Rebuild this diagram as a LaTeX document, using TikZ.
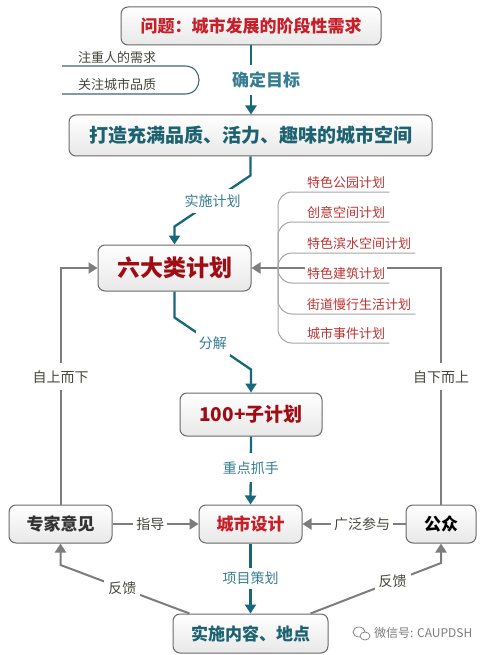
\documentclass[tikz,border=0pt]{standalone}
\usepackage{fontspec}
\setmainfont{Noto Sans CJK SC}
\usetikzlibrary{arrows.meta}
\definecolor{tealline}{RGB}{24,104,124}
\definecolor{tealtext}{RGB}{28,98,112}
\definecolor{labteal}{RGB}{55,125,145}
\definecolor{titlered}{RGB}{200,30,40}
\definecolor{darkred}{RGB}{160,12,20}
\definecolor{itemred}{RGB}{190,50,50}
\definecolor{arrgray}{RGB}{125,125,125}
\definecolor{labgray}{RGB}{70,70,60}
\definecolor{boxedge}{RGB}{105,105,105}
\definecolor{boxbot}{RGB}{232,232,232}
\definecolor{treegray}{RGB}{165,165,165}
\definecolor{brackteal}{RGB}{60,105,120}
\begin{document}
\begin{tikzpicture}[x=1pt,y=-1pt,
  box/.style={draw=boxedge, line width=1pt, rounded corners=7pt, top color=white, bottom color=boxbot, inner sep=0pt},
  tarrow/.style={draw=tealline, line width=2.3pt, -{Triangle[width=11pt,length=9pt]}},
  garrow/.style={draw=arrgray, line width=2pt, -{Triangle[width=11pt,length=9pt]}},
  tlab/.style={fill=white, text=labteal, font=\fontsize{14}{16}\selectfont, inner xsep=3pt, inner ysep=6pt},
  glab/.style={fill=white, text=labgray, font=\fontsize{14}{16}\selectfont, inner xsep=3pt, inner ysep=5pt},
  itm/.style={fill=white, text=itemred, font=\fontsize{13}{15}\selectfont, inner sep=2pt, text height=11pt, text depth=2pt, anchor=south west},
  side/.style={text=labgray, font=\fontsize{13}{15}\selectfont, inner sep=1pt},
  tree/.style={draw=treegray, line width=1pt, rounded corners=14pt}
]
\useasboundingbox (0,0) rectangle (479,655);
\fill[white] (0,0) rectangle (479,655);

% boxes
\node[box, minimum width=260pt, minimum height=38pt, text=titlered, font=\bfseries\fontsize{17}{20}\selectfont] (q) at (251,26) {问题：城市发展的阶段性需求};
\node[box, minimum width=363pt, minimum height=41pt, text=tealtext, font=\bfseries\fontsize{19}{22}\selectfont] (b2) at (250.5,135.5) {打造充满品质、活力、趣味的城市空间};
\node[box, minimum width=153pt, minimum height=46pt, text=darkred, font=\bfseries\fontsize{23}{26}\selectfont] (six) at (174.5,268) {六大类计划};
\node[box, minimum width=142pt, minimum height=43pt, text=darkred, font=\bfseries\fontsize{19}{22}\selectfont] (hund) at (251,414.5) {100+子计划};
\node[box, minimum width=103pt, minimum height=38pt, text=titlered, font=\bfseries\fontsize{17}{20}\selectfont] (csj) at (250.5,524) {城市设计};
\node[box, minimum width=103pt, minimum height=38pt, text=black!80, font=\bfseries\fontsize{17}{20}\selectfont] (zj) at (60.5,524) {专家意见};
\node[box, minimum width=70pt, minimum height=38pt, text=black, font=\bfseries\fontsize{17}{20}\selectfont] (gz) at (441,524) {公众};
\node[box, minimum width=155pt, minimum height=39pt, text=tealtext, font=\bfseries\fontsize{17}{20}\selectfont] (ss) at (250.5,633.5) {实施内容、地点};

% left bracket
\draw[brackteal, line width=1.1pt] (62,66) -- (185,66) .. controls (203.7,66) and (203.7,94) .. (185,94) -- (62,94);
\node[side] (s1) at (117,58) {注重人的需求};
\node[side] (s2) at (117,85) {关注城市品质};

% teal trunk
\draw[tarrow] (q.south) -- (q.south |- b2.north);
\node[fill=white, text=labteal, font=\bfseries\fontsize{17}{20}\selectfont, inner xsep=2pt, inner ysep=7pt] (l0) at (266,80) {确定目标};
\draw[tarrow] (b2.south) -- ([yshift=-19pt]b2.south) -- node[tlab]{实施计划} ([yshift=18pt]six.north) -- (six.north);
\draw[tarrow] (six.south) -- ([yshift=-26pt]six.south) -- node[tlab]{分解} ([yshift=23pt]hund.north) -- (hund.north);
\draw[tarrow] (hund.south) -- node[tlab, pos=0.46, inner ysep=8pt]{重点抓手} (csj.north);
\draw[tarrow] (csj.south) -- node[tlab, inner ysep=4pt]{项目策划} (ss.north);

% gray connectors
\draw[garrow] (zj.east) -- node[glab, pos=0.44]{指导} (csj.west);
\draw[garrow] (gz.west) -- node[glab, pos=0.42]{广泛参与} (csj.east);
\draw[garrow] (zj.north) |- node[glab, pos=0.27, inner ysep=7pt]{自上而下} (six.west);
\draw[garrow] (gz.north) |- node[glab, pos=0.27, inner ysep=7pt]{自下而上} (six.east);
\coordinate (fbl) at (0,565);
\coordinate (fbr) at (0,563);
\draw[garrow] ([xshift=17pt]ss.north west) -- node[glab, pos=0.52, inner sep=4pt]{反馈} (zj.south |- fbl) -- (zj.south);
\draw[garrow] ([xshift=-18pt]ss.north east) -- node[glab, pos=0.63, inner sep=4pt]{反馈} (gz.south |- fbr) -- (gz.south);

% tree of six plans
\coordinate (hub) at (278,268);
\node[itm] (t1) at (305,192) {特色公园计划};
\node[itm] (t2) at (305,222) {创意空间计划};
\node[itm] (t3) at (305,253) {特色滨水空间计划};
\node[itm] (t4) at (305,283) {特色建筑计划};
\node[itm] (t5) at (305,314) {街道慢行生活计划};
\node[itm] (t6) at (305,343) {城市事件计划};
\foreach \t in {t1,t2,t3,t4,t5,t6}{
  \draw[tree] (hub) |- ([xshift=2pt]\t.south east);
}

% watermark
\node[text=arrgray, font=\fontsize{12}{14}\selectfont, inner sep=0pt, anchor=west] (wm) at (374,633) {微信号: CAUPDSH};
\draw[arrgray, line width=0.7pt] (359,632) ellipse (6pt and 5pt);
\draw[arrgray, line width=0.7pt, fill=white] (365,636) ellipse (5pt and 4pt);
\end{tikzpicture}
\end{document}
